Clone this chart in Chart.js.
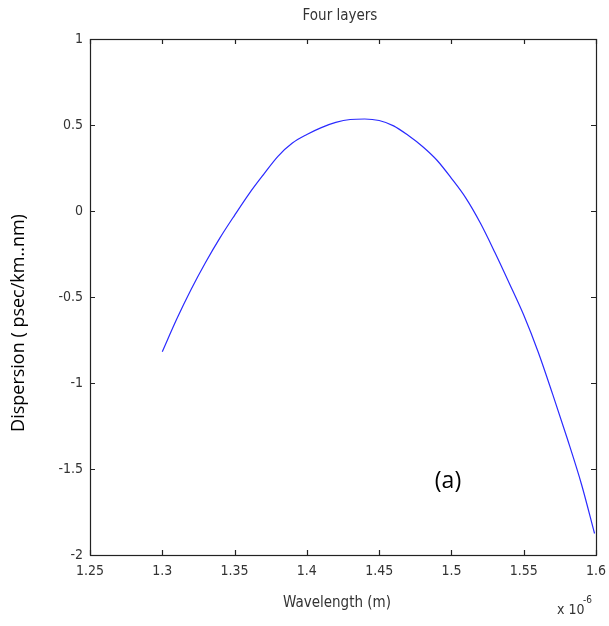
<!DOCTYPE html>
<html><head><meta charset="utf-8">
<script src="https://cdn.jsdelivr.net/npm/chart.js@4/dist/chart.umd.min.js"></script>
<style>html,body{margin:0;padding:0;background:#fff;}#wrap{width:609px;height:626px;}</style>
</head><body><div id="wrap"><canvas id="c" width="609" height="626"></canvas></div>
<script>
// Wavelength (x 10^-6 m)
const wavelength = [1.300,1.310,1.320,1.330,1.340,1.350,1.360,1.370,1.380,1.390,1.400,1.410,1.420,1.430,1.440,1.450,1.460,1.470,1.480,1.490,1.500,1.510,1.520,1.530,1.540,1.550,1.560,1.570,1.580,1.590,1.599];
// Dispersion (psec/km.nm)
const dispersion = [-0.818,-0.628,-0.455,-0.298,-0.155,-0.025,0.100,0.212,0.318,0.395,0.445,0.485,0.515,0.532,0.535,0.526,0.495,0.440,0.375,0.295,0.190,0.075,-0.070,-0.240,-0.420,-0.605,-0.820,-1.065,-1.320,-1.590,-1.875];
const xTicks = [1.25,1.3,1.35,1.4,1.45,1.5,1.55,1.6];
const yTicks = [-2,-1.5,-1,-0.5,0,0.5,1];
const titleText = 'Four layers';
const xLabel = 'Wavelength (m)';
const yLabel = 'Dispersion ( psec/km..nm)';
const panelLabel = '(a)';

const points = wavelength.map((w,i)=>({x:w,y:dispersion[i]}));
const narrow = '"Liberation Sans Narrow","DejaVu Sans Condensed","Liberation Sans",sans-serif';

const frame = {
  id:'frame',
  afterDraw(chart){
    const {ctx, chartArea:a, scales:{x,y}} = chart;
    ctx.save();
    ctx.strokeStyle='#222'; ctx.lineWidth=1.2;
    ctx.strokeRect(a.left+0.5,a.top+0.5,a.right-a.left,a.bottom-a.top);
    ctx.beginPath();
    xTicks.forEach(v=>{const px=Math.round(x.getPixelForValue(v))+0.5;
      ctx.moveTo(px,a.bottom);ctx.lineTo(px,a.bottom-5);
      ctx.moveTo(px,a.top);ctx.lineTo(px,a.top+5);});
    yTicks.forEach(v=>{const py=Math.round(y.getPixelForValue(v))+0.5;
      ctx.moveTo(a.left,py);ctx.lineTo(a.left+5,py);
      ctx.moveTo(a.right,py);ctx.lineTo(a.right-5,py);});
    ctx.stroke();
    // texts
    ctx.fillStyle='#333';
    ctx.font='15px '+narrow;
    ctx.textAlign='center'; ctx.textBaseline='middle';
    ctx.fillText(titleText,340,16);
    ctx.fillText(xLabel,337,603);
    ctx.textAlign='left';
    ctx.font='14px '+narrow;
    ctx.fillText('x 10',557,610);
    ctx.font='10px '+narrow;
    ctx.fillText('-6',583,600);
    ctx.fillStyle='#000';
    ctx.font='18px "Open Sans","Liberation Sans",sans-serif';
    ctx.textAlign='center';
    ctx.save(); ctx.translate(19,323); ctx.rotate(-Math.PI/2);
    ctx.fillText(yLabel,0,0); ctx.restore();
    ctx.font='23px "Open Sans","Liberation Sans",sans-serif';
    ctx.fillText(panelLabel,448,481);
    ctx.restore();
  }
};

new Chart(document.getElementById('c'),{
  type:'line',
  data:{datasets:[{data:points,borderColor:'#2a2aff',borderWidth:1.2,pointRadius:0,cubicInterpolationMode:'monotone',fill:false}]},
  options:{
    responsive:false,animation:false,
    layout:{padding:{top:39,right:13,left:0,bottom:0}},
    plugins:{legend:{display:false},tooltip:{enabled:false}},
    scales:{
      x:{type:'linear',min:1.25,max:1.6,
        afterBuildTicks(s){s.ticks=xTicks.map(v=>({value:v}));},
        afterFit(s){s.height=71;s.paddingLeft=0;s.paddingRight=0;},
        grid:{display:false,drawTicks:false},border:{display:false},
        ticks:{padding:8,color:'#333',font:{family:narrow,size:14},maxRotation:0,autoSkip:false,
          callback:v=>String(Number(v.toFixed(2)))}},
      y:{type:'linear',min:-2,max:1,
        afterBuildTicks(s){s.ticks=yTicks.map(v=>({value:v}));},
        afterFit(s){s.width=90;s.paddingTop=0;s.paddingBottom=0;},
        grid:{display:false,drawTicks:false},border:{display:false},
        ticks:{padding:7,color:'#333',font:{family:narrow,size:14},autoSkip:false,
          callback:v=>String(Number(v.toFixed(2)))}}
    }
  },
  plugins:[frame]
});
</script></body></html>
